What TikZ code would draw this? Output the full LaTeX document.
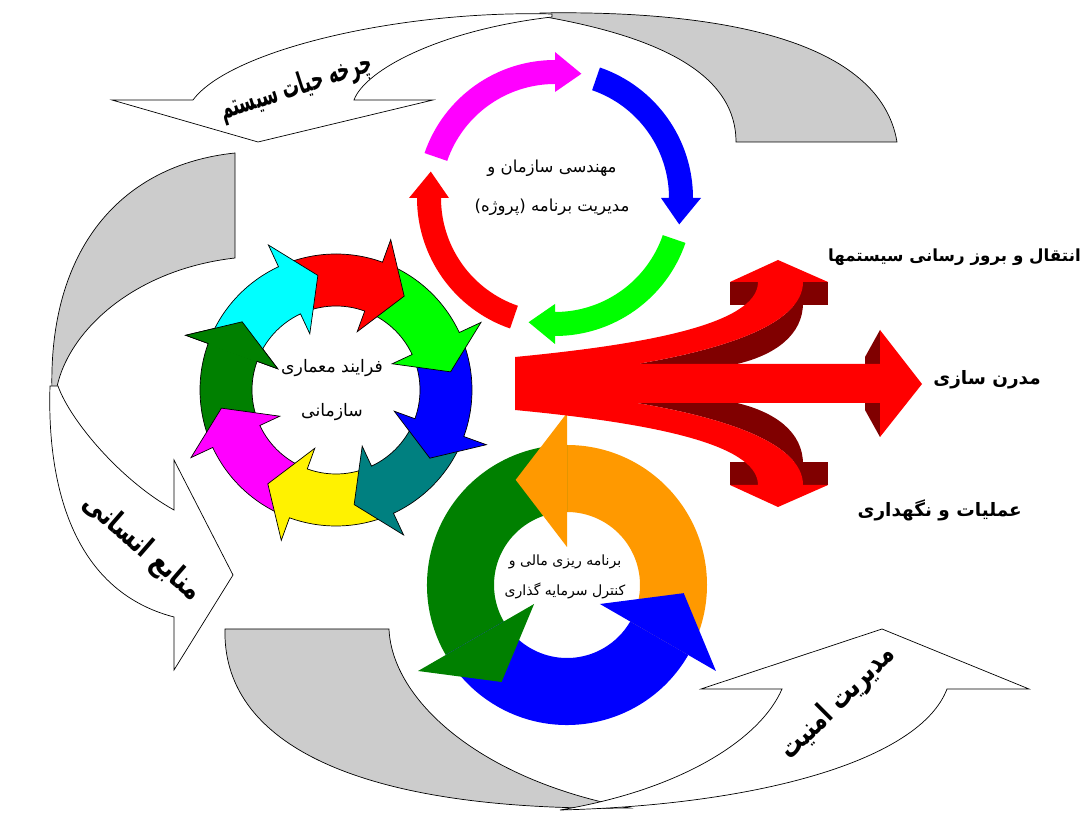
\documentclass[tikz,border=0pt]{standalone}
\usepackage{fontspec}
\newfontfamily\farsi[Script=Arabic]{DejaVu Sans}
\TeXXeTstate=1
\definecolor{ribbongray}{RGB}{204,204,204}
\definecolor{darkred}{RGB}{128,0,0}
\definecolor{orangeC}{RGB}{255,153,0}
\definecolor{tealB}{RGB}{0,128,128}
\definecolor{dkgreen}{RGB}{0,128,0}
\definecolor{magentaA}{RGB}{255,0,255}
\definecolor{cyanB}{RGB}{0,255,255}
\tikzset{
	ribbon/.style={draw=black, line width=0.4pt},
	ringlabel/.style={align=center, text=black},
	sidelabel/.style={anchor=east, font=\farsi\bfseries\fontsize{10.5}{13}\selectfont},
	ribbonlabel/.style={font=\farsi\bfseries\fontsize{17}{20}\selectfont},
}
\begin{document}
\begin{tikzpicture}[x=0.02cm, y=-0.02cm]
	\useasboundingbox (0,0) rectangle (1089,813);

	\filldraw[ribbon, fill=ribbongray] (540,13) .. controls (720,10) and (880,40) .. (897,142) -- (736,142) .. controls (736,70) and (650,35) .. (540,16) -- cycle;
	\filldraw[ribbon, fill=white] (552,14) .. controls (400,10) and (230,50) .. (193,100) -- (112,100) -- (258,142) -- (433,100) -- (354,100) .. controls (365,70) and (440,30) .. (552,17) -- cycle;

	\filldraw[ribbon, fill=ribbongray] (235,153) .. controls (120,165) and (48,250) .. (52,392) -- (56,392) .. controls (65,335) and (130,270) .. (235,258) -- cycle;
	\filldraw[ribbon, fill=white] (50,386) .. controls (47,480) and (70,590) .. (174,617) -- (174,670) -- (233,575) -- (174,460) -- (174,510) .. controls (120,480) and (70,420) .. (58,386) -- cycle;

	\filldraw[ribbon, fill=ribbongray] (225,629) .. controls (222,740) and (350,812) .. (630,808) .. controls (480,780) and (392,700) .. (389,629) -- cycle;
	\filldraw[ribbon, fill=white] (560,810) .. controls (760,805) and (920,760) .. (947,689) -- (1029,689) -- (882,629) -- (701,689) -- (782,689) .. controls (760,740) and (680,790) .. (560,810) -- cycle;

	\begin{scope}[shift={(555,198)}]
		\foreach \col/\b in {magentaA/-90, blue/0, green/90, red/180}
			\fill[\col] ({\b-71}:114) arc[start angle=\b-71, end angle=\b, radius=114] -- (\b:106) -- ({\b+12}:127) -- (\b:146) -- (\b:138) arc[start angle=\b, end angle=\b-71, radius=138] -- cycle;
	\end{scope}

	\begin{scope}[shift={(336,390)}]
		\foreach \col/\s in {dkgreen/200, magentaA/155, yellow/110, tealB/65, blue/20, green/-25, red/-70, cyanB/-115}
			\filldraw[fill=\col, draw=black] ({\s-45}:84) arc[start angle=\s-45, end angle=\s, radius=84] -- (\s:62) -- ({\s+16}:116) -- (\s:160) -- (\s:136) arc[start angle=\s, end angle=\s-45, radius=136] -- cycle;
		\begin{scope}
			\clip (0,0) -- (199.5:200) arc[start angle=199.5, end angle=240, radius=200] -- cycle;
			\filldraw[fill=dkgreen, draw=black] (155:84) arc[start angle=155, end angle=200, radius=84] -- (200:62) -- (216:116) -- (200:160) -- (200:136) arc[start angle=200, end angle=155, radius=136] -- cycle;
		\end{scope}
	\end{scope}

	\begin{scope}[shift={(567,585)}]
		\foreach \col/\s/\p in {orangeC/-90/30, dkgreen/-210/-90, blue/-330/-210}
			\fill[\col] (\p:73) arc[start angle=\p, end angle=\s, radius=73] -- (\s:140) arc[start angle=\s, end angle=\p, radius=140] -- cycle;
		\foreach \col/\s in {orangeC/-90, dkgreen/-210, blue/-330}
			\fill[\col] (\s:38) -- ({\s-26}:117) -- (\s:172) -- cycle;
	\end{scope}

	\foreach \m in {1,-1}{
		\begin{scope}[shift={(0,383.5)}, yscale=\m, shift={(0,-383.5)}]
			\fill[darkred] (730,282) rectangle (828,305);
			\fill[darkred] (637,364) .. controls (720,350) and (803,325) .. (803,282) -- (803,303) .. controls (803,335) and (775,355) .. (737,364) -- cycle;
		\end{scope}
	}
	\fill[darkred] (865,357) -- (880,330) -- (880,437) -- (865,410) -- cycle;
	\foreach \m in {1,-1}{
		\begin{scope}[shift={(0,383.5)}, yscale=\m, shift={(0,-383.5)}]
			\fill[red] (515,390) -- (515,357) .. controls (640,345) and (758,325) .. (758,282) -- (803,282) .. controls (803,325) and (720,350) .. (637,364) -- (880,364) -- (880,390) -- cycle;
			\fill[red] (730,282) -- (778,260) -- (828,282) -- cycle;
		\end{scope}
	}
	\fill[red] (880,330) -- (922,384) -- (880,437) -- cycle;

	\node[ringlabel, font=\farsi\fontsize{9.4}{22}\selectfont] (engA) at (552,188) {\beginR مهندسی سازمان و\endR\\\beginR مدیریت برنامه (پروژه)\endR};
	\node[ringlabel, font=\farsi\fontsize{9.8}{25}\selectfont] (archB) at (332,390) {\beginR فرایند معماری\endR\\\beginR سازمانی\endR};
	\node[ringlabel, font=\farsi\fontsize{8}{17}\selectfont] (finC) at (565,577) {\beginR برنامه ریزی مالی و\endR\\\beginR کنترل سرمایه گذاری\endR};

	\node[sidelabel, font=\farsi\bfseries\fontsize{9.5}{12}\selectfont] (migr) at (1087,257) {\beginR انتقال و بروز رسانی سیستمها\endR};
	\node[sidelabel] (modern) at (1047,380) {\beginR مدرن سازی\endR};
	\node[sidelabel] (ops) at (1028,510) {\beginR عملیات و نگهداری\endR};

	\node[ribbonlabel, rotate=18, xscale=0.56] (life) at (296,88) {\beginR چرخه حیات سیستم\endR};
	\node[ribbonlabel, rotate=-41, xscale=0.78] (human) at (142,548) {\beginR منابع انسانی\endR};
	\node[ribbonlabel, rotate=45, xscale=0.73] (secur) at (838,703) {\beginR مدیریت امنیت\endR};
\end{tikzpicture}
\end{document}
